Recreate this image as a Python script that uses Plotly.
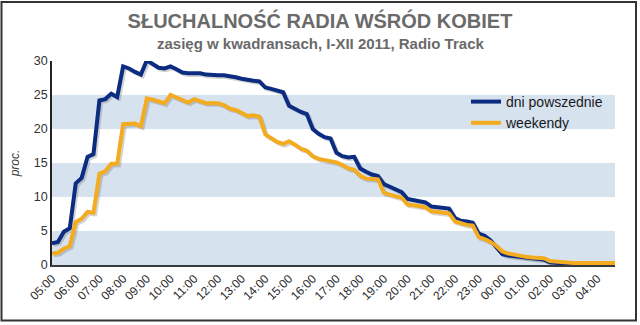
import plotly.graph_objects as go

# quarter-hour slots from 05:00 to 04:45 (96 points)
hour_labels = ["05:00", "06:00", "07:00", "08:00", "09:00", "10:00", "11:00", "12:00",
               "13:00", "14:00", "15:00", "16:00", "17:00", "18:00", "19:00", "20:00",
               "21:00", "22:00", "23:00", "00:00", "01:00", "02:00", "03:00", "04:00"]

weekdays = [3.2, 3.4, 4.9, 5.4, 12.0, 12.8, 15.9, 16.3,
            24.2, 24.4, 25.2, 24.7, 29.2, 28.9, 28.4, 28.0,
            30.1, 29.6, 29.0, 28.9, 29.2, 28.8, 28.3, 28.2,
            28.2, 28.2, 28.0, 27.9, 27.9, 27.9, 27.8, 27.6,
            27.4, 27.2, 27.1, 27.0, 26.1, 25.9, 25.7, 25.4,
            23.4, 22.9, 22.5, 22.2, 20.0, 19.3, 18.8, 18.6,
            16.5, 16.0, 15.8, 15.9, 14.2, 13.7, 13.3, 13.1,
            11.9, 11.5, 11.1, 10.7, 9.7, 9.5, 9.3, 9.2,
            8.6, 8.5, 8.4, 8.3, 6.9, 6.5, 6.4, 6.2,
            4.6, 4.3, 3.6, 2.6, 1.6, 1.4, 1.3, 1.1,
            1.0, 0.9, 0.8, 0.8, 0.4, 0.3, 0.2, 0.15,
            0.1, 0.1, 0.1, 0.1, 0.1, 0.1, 0.1, 0.1]

weekends = [1.7, 1.8, 2.4, 2.8, 6.3, 6.8, 7.8, 7.7,
            13.4, 13.8, 14.9, 14.9, 20.7, 20.8, 20.8, 20.4,
            24.5, 24.3, 24.0, 23.8, 25.0, 24.6, 24.2, 23.9,
            24.4, 24.1, 23.8, 23.8, 23.8, 23.5, 23.0, 22.8,
            22.4, 21.9, 22.0, 21.8, 19.2, 18.6, 18.1, 17.8,
            18.2, 17.7, 17.1, 16.8, 16.0, 15.6, 15.4, 15.3,
            15.1, 14.7, 14.2, 14.0, 13.1, 12.7, 12.6, 12.6,
            10.6, 10.3, 10.1, 9.9, 8.9, 8.8, 8.7, 8.5,
            7.9, 7.8, 7.7, 7.6, 6.4, 6.1, 5.9, 5.8,
            4.1, 3.8, 3.4, 2.8, 2.0, 1.7, 1.5, 1.3,
            1.2, 1.1, 1.1, 1.0, 0.6, 0.5, 0.4, 0.3,
            0.3, 0.3, 0.3, 0.3, 0.3, 0.3, 0.3, 0.3]

y_ticks = [0, 5, 10, 15, 20, 25, 30]
bands = [(0, 5), (10, 15), (20, 25)]

x = list(range(len(weekdays)))
tick_pos = x[::4]

BLUE = "#0c2c82"
GOLD = "#f3ab1f"
FONT = "Liberation Sans, Arial, sans-serif"

fig = go.Figure()

# soft drop shadows
for ys in (weekdays, weekends):
    fig.add_trace(go.Scatter(x=[v + 0.3 for v in x], y=[v - 0.25 for v in ys],
                             mode="lines", line=dict(color="rgba(80,80,80,0.25)", width=4),
                             showlegend=False, hoverinfo="skip", cliponaxis=False))

fig.add_trace(go.Scatter(x=x, y=weekdays, mode="lines", name="dni powszednie",
                         line=dict(color=BLUE, width=4), cliponaxis=False))
fig.add_trace(go.Scatter(x=x, y=weekends, mode="lines", name="weekendy",
                         line=dict(color=GOLD, width=4), cliponaxis=False))

shapes = []
for y0, y1 in bands:
    shapes.append(dict(type="rect", xref="paper", yref="y", x0=0, x1=1, y0=y0, y1=y1,
                       fillcolor="#d7e2ef", line=dict(width=0), layer="below"))
# outer frame
shapes.append(dict(type="rect", xref="paper", yref="paper",
                   x0=-0.0897, x1=1.0373, y0=-0.272, y1=1.289,
                   line=dict(color="#333333", width=2), fillcolor="rgba(0,0,0,0)", layer="above"))

fig.update_layout(
    width=640, height=325,
    margin=dict(l=52, r=25, t=61, b=60),
    paper_bgcolor="white", plot_bgcolor="white",
    font=dict(family=FONT, color="#333333"),
    title=dict(text="<b>SŁUCHALNOŚĆ RADIA WŚRÓD KOBIET</b>", x=0.5, xanchor="center",
               y=1 - 21 / 325, yanchor="middle", xref="container", yref="container",
               font=dict(size=20, color="#6a6a6a", family=FONT)),
    annotations=[dict(text="<b>zasięg w kwadransach, I-XII 2011, Radio Track</b>",
                      xref="paper", yref="paper", x=(320 - 52) / 563, y=(265 - 43) / 204,
                      xanchor="center", yanchor="middle", showarrow=False,
                      font=dict(size=15, color="#6a6a6a", family=FONT))],
    shapes=shapes,
    showlegend=True,
    legend=dict(x=(466 - 52) / 563, y=(265 - 86) / 204, xanchor="left", yanchor="top",
                bgcolor="rgba(0,0,0,0)", borderwidth=0,
                font=dict(size=14, color="#1a1a1a", family=FONT), itemwidth=30),
)

fig.update_xaxes(range=[0, 95], tickvals=tick_pos, ticktext=hour_labels, tickangle=-45,
                 showgrid=False, zeroline=False, showline=True, linecolor="#3a3a3a",
                 linewidth=2, ticks="", tickfont=dict(size=12, color="#2a2a2a"))
fig.update_yaxes(range=[0, 30], tickvals=y_ticks, showgrid=False, zeroline=False,
                 showline=True, linecolor="#222222", linewidth=1.5, ticks="",
                 tickfont=dict(size=12.5, color="#333333"),
                 title=dict(text="<i>proc.</i>", font=dict(size=12, color="#333333"), standoff=12))

fig.write_html("out.html")
